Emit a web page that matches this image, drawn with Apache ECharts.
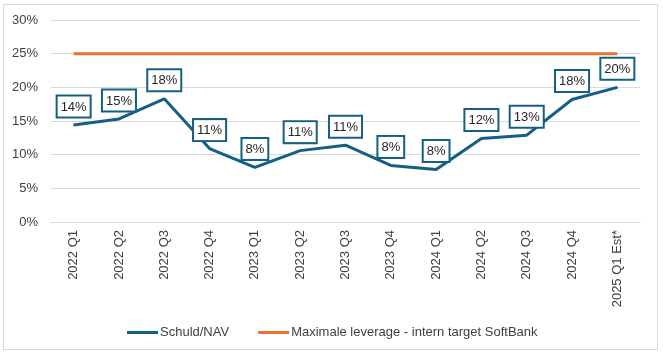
<!DOCTYPE html>
<html><head><meta charset="utf-8">
<script src="https://cdn.jsdelivr.net/npm/echarts@6/dist/echarts.min.js"></script>
<style>html,body{margin:0;padding:0;background:#fff}#c{width:663px;height:356px}
#frame{position:absolute;left:3px;top:4px;width:655px;height:346px;border:1px solid #d9d9d9;box-sizing:border-box;pointer-events:none}</style>
</head><body><div id="c"></div><div id="frame"></div>
<script>
var categories = ['2022 Q1','2022 Q2','2022 Q3','2022 Q4','2023 Q1','2023 Q2','2023 Q3','2023 Q4','2024 Q1','2024 Q2','2024 Q3','2024 Q4','2025 Q1 Est*'];
var schuldNav = [14.4, 15.3, 18.3, 10.9, 8.1, 10.6, 11.4, 8.4, 7.8, 12.4, 12.9, 18.2, 20.0];
var maxLeverage = [25,25,25,25,25,25,25,25,25,25,25,25,25];
var yTicks = [0,5,10,15,20,25,30];
var chart = echarts.init(document.getElementById('c'));
chart.setOption({
  animation:false,
  grid:{left:51,right:23,top:20,bottom:134},
  legend:{bottom:12,left:122,itemWidth:31,itemHeight:3,itemGap:29,icon:'rect',
    textStyle:{fontFamily:'Liberation Sans, Arial',fontSize:13,color:'#404040',padding:[0,0,0,-3]},
    data:['Schuld/NAV','Maximale leverage - intern target SoftBank']},
  xAxis:{type:'category',data:categories,boundaryGap:true,
    axisLine:{show:true,lineStyle:{color:'#d9d9d9'}},axisTick:{show:false},
    axisLabel:{rotate:90,fontFamily:'Liberation Sans, Arial',fontSize:13,color:'#404040',margin:8,interval:0}},
  yAxis:{type:'value',min:yTicks[0],max:yTicks[yTicks.length-1],interval:5,
    axisLine:{show:false},axisTick:{show:false},
    splitLine:{lineStyle:{color:'#d9d9d9'}},
    axisLabel:{formatter:'{value}%',fontFamily:'Liberation Sans, Arial',fontSize:13,color:'#404040',margin:13}},
  series:[
    {name:'Schuld/NAV',type:'line',data:schuldNav,symbol:'circle',symbolSize:1,showSymbol:true,
      lineStyle:{color:'#156082',width:3},itemStyle:{color:'#156082'},
      label:{show:true,position:'top',distance:8,formatter:function(p){return Math.round(p.value)+'%';},
        fontFamily:'Liberation Sans, Arial',fontSize:13,color:'#262626',
        backgroundColor:'#fff',borderColor:'#156082',borderWidth:2,padding:[4,3,3,3]}, z:3},
    {name:'Maximale leverage - intern target SoftBank',type:'line',data:maxLeverage,symbol:'none',
      lineStyle:{color:'#e97132',width:3},itemStyle:{color:'#e97132'}, z:2}
  ]
});
</script></body></html>
